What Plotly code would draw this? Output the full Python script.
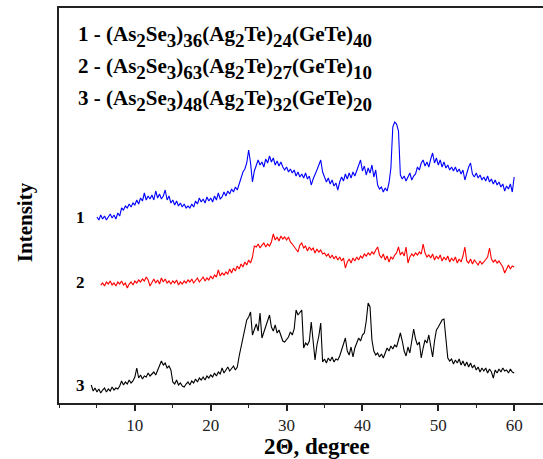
import numpy as np
import plotly.graph_objects as go

# 2-theta grids (degree), 0.25 step
step = 0.25
blue_start, red_start, black_start = 5.0, 5.5, 4.25

# Intensity (arbitrary units, offset per pattern)
blue_y = [
    186, 183, 188, 184, 187, 183, 186, 189, 185, 188, 184, 190, 187, 195, 193, 197,
    195, 199, 196, 200, 198, 203, 199, 205, 202, 210, 203, 207, 204, 208, 203, 212,
    205, 209, 204, 207, 213, 203, 207, 200, 203, 198, 202, 197, 200, 196, 199, 195,
    197, 195, 199, 196, 202, 199, 205, 201, 204, 200, 206, 202, 205, 201, 207, 203,
    210, 204, 206, 211, 207, 212, 209, 214, 211, 216, 213, 220, 225, 231, 234, 240,
    253, 240, 221, 232, 237, 243, 238, 241, 236, 244, 240, 247, 241, 245, 238, 242,
    237, 241, 236, 233, 236, 231, 234, 230, 233, 227, 231, 226, 229, 225, 230, 224,
    227, 218, 224, 228, 233, 238, 243, 231, 226, 221, 225, 219, 223, 217, 220, 213,
    221, 226, 222, 229, 224, 230, 225, 231, 227, 233, 238, 243, 232, 237, 228, 235,
    230, 238, 226, 233, 218, 214, 216, 211, 215, 212, 220, 235, 276, 281, 279, 272,
    228, 224, 227, 222, 226, 230, 223, 227, 229, 236, 233, 240, 243, 237, 241, 236,
    244, 250, 240, 245, 238, 243, 236, 241, 235, 238, 233, 236, 232, 236, 231, 234,
    229, 233, 223, 231, 236, 240, 229, 226, 230, 225, 228, 223, 226, 222, 227, 221,
    224, 219, 223, 218, 221, 216, 219, 212, 217, 214, 219, 211, 226,
]
red_y = [
    118, 120, 117, 121, 119, 122, 118, 120, 117, 121, 119, 122, 118, 120, 115, 119,
    121, 118, 122, 120, 123, 121, 124, 122, 126, 123, 117, 121, 124, 120, 123, 119,
    125, 121, 124, 120, 122, 119, 122, 120, 123, 118, 121, 119, 122, 120, 123, 121,
    124, 120, 122, 125, 121, 124, 126, 122, 125, 123, 127, 124, 128, 126, 133, 127,
    130, 128, 131, 129, 134, 130, 135, 132, 137, 134, 139, 136, 141, 138, 143, 140,
    146, 157, 156, 159, 155, 158, 160, 156, 159, 157, 161, 169, 163, 166, 162, 167,
    164, 166, 163, 166, 161, 159, 156, 153, 151, 158, 160, 155, 157, 152, 156, 153,
    155, 150, 154, 151, 153, 149, 150, 147, 149, 145, 148, 144, 147, 143, 146, 142,
    145, 135, 141, 144, 140, 145, 142, 146, 143, 147, 145, 149, 147, 150, 148, 151,
    149, 153, 156, 148, 145, 149, 143, 147, 141, 146, 144, 148, 150, 156, 148, 151,
    147, 156, 140, 146, 149, 147, 150, 148, 151, 149, 159, 150, 146, 148, 145, 149,
    143, 147, 144, 148, 142, 146, 143, 147, 141, 145, 142, 146, 140, 144, 141, 147,
    156, 142, 140, 144, 139, 143, 141, 138, 142, 139, 141, 143, 146, 155, 144, 141,
    143, 140, 142, 139, 136, 130, 135, 138, 134, 137, 136,
]
black_y = [
    18, 12, 15, 11, 14, 10, 13, 15, 11, 14, 12, 16, 13, 15, 14, 17,
    22, 18, 21, 19, 23, 20, 22, 26, 35, 25, 28, 24, 27, 26, 30, 27,
    29, 31, 28, 33, 36, 42, 38, 40, 35, 37, 33, 21, 19, 23, 18, 20,
    17, 16, 19, 21, 18, 22, 20, 24, 21, 25, 23, 26, 23, 27, 25, 28,
    26, 30, 27, 31, 29, 35, 30, 33, 36, 32, 34, 37, 33, 36, 47, 56,
    63, 74, 83, 86, 91, 68, 74, 79, 72, 90, 65, 71, 78, 82, 88, 76,
    72, 78, 70, 73, 68, 62, 61, 63, 66, 71, 68, 74, 93, 88, 91, 93,
    55, 60, 58, 62, 81, 64, 43, 58, 67, 80, 41, 44, 40, 45, 42, 46,
    41, 44, 43, 47, 53, 58, 65, 52, 48, 56, 46, 55, 60, 65, 62, 68,
    70, 82, 100, 96, 63, 52, 48, 50, 46, 49, 45, 51, 55, 52, 57, 54,
    58, 56, 64, 70, 62, 52, 47, 56, 50, 62, 74, 64, 58, 61, 45, 55,
    63, 60, 68, 57, 46, 62, 73, 76, 80, 83, 84, 60, 45, 42, 44, 39,
    43, 40, 44, 38, 42, 37, 41, 36, 40, 35, 38, 33, 36, 31, 35, 32,
    35, 30, 34, 31, 25, 33, 30, 34, 31, 35, 32, 33, 30, 34, 31, 30,
]

blue_x = np.round(blue_start + step * np.arange(len(blue_y)), 2)
red_x = np.round(red_start + step * np.arange(len(red_y)), 2)
black_x = np.round(black_start + step * np.arange(len(black_y)), 2)

tick_vals = [10, 20, 30, 40, 50, 60]
tick_text = ["10", "20", "30", "40", "50", "60"]

# composition labels: (As2Se3)a(Ag2Te)b(GeTe)c
compositions = [("1", "36", "24", "40"), ("2", "63", "27", "10"), ("3", "48", "32", "20")]
curve_labels = ["1", "2", "3"]

SERIF = "Liberation Serif, Times New Roman, serif"


def sub(s):
    return "<span style='font-size:19px;baseline-shift:-6px'>%s</span>" % s


def formula(n, a, b, c):
    return ("<b>" + n + " - (As" + sub("2") + "Se" + sub("3") + ")" + sub(a)
            + "(Ag" + sub("2") + "Te)" + sub(b) + "(GeTe)" + sub(c) + "</b>")


fig = go.Figure()
fig.add_trace(go.Scatter(x=black_x, y=black_y, mode="lines",
                         line=dict(color="#000000", width=1.1), showlegend=False))
fig.add_trace(go.Scatter(x=red_x, y=red_y, mode="lines",
                         line=dict(color="#ff0000", width=1.1), showlegend=False))
fig.add_trace(go.Scatter(x=blue_x, y=blue_y, mode="lines",
                         line=dict(color="#0000ff", width=1.1), showlegend=False))

annotations = []
for i, comp in enumerate(compositions):
    annotations.append(dict(x=2.3, y=367 - 32 * i, xref="x", yref="y", text=formula(*comp),
                            showarrow=False, xanchor="left", yanchor="middle",
                            font=dict(family=SERIF, size=21, color="black")))
for lbl, yv in zip(curve_labels, [186, 121, 18]):
    annotations.append(dict(x=2.8, y=yv, xref="x", yref="y", text="<b>" + lbl + "</b>",
                            showarrow=False, xanchor="center", yanchor="middle",
                            font=dict(family=SERIF, size=17, color="black")))
annotations.append(dict(x=-0.070, y=0.458, xref="paper", yref="paper",
                        text="<b>Intensity</b>", textangle=-90, showarrow=False,
                        xanchor="center", yanchor="middle",
                        font=dict(family=SERIF, size=21, color="black")))
annotations.append(dict(x=0.533, y=-0.111, xref="paper", yref="paper",
                        text="<b>2Θ, degree</b>", showarrow=False,
                        xanchor="center", yanchor="middle",
                        font=dict(family=SERIF, size=23, color="black")))

fig.update_layout(
    width=543, height=459,
    margin=dict(l=59, r=0, t=8, b=56),
    paper_bgcolor="white", plot_bgcolor="white",
    annotations=annotations,
    xaxis=dict(range=[0, 63.8], tickvals=tick_vals, ticktext=tick_text,
               ticks="outside", ticklen=6, tickwidth=1.5, tickcolor="#222",
               showline=True, linecolor="#222", linewidth=2, mirror=True,
               showgrid=False, zeroline=False,
               minor=dict(dtick=5, tick0=0, ticks="outside", ticklen=3,
                          tickwidth=1.2, tickcolor="#222", showgrid=False),
               tickfont=dict(family=SERIF, size=17, color="#222")),
    yaxis=dict(range=[0, 395], showticklabels=False, ticks="",
               showline=True, linecolor="#222", linewidth=2,
               showgrid=False, zeroline=False),
)

fig.write_html("out.html")
